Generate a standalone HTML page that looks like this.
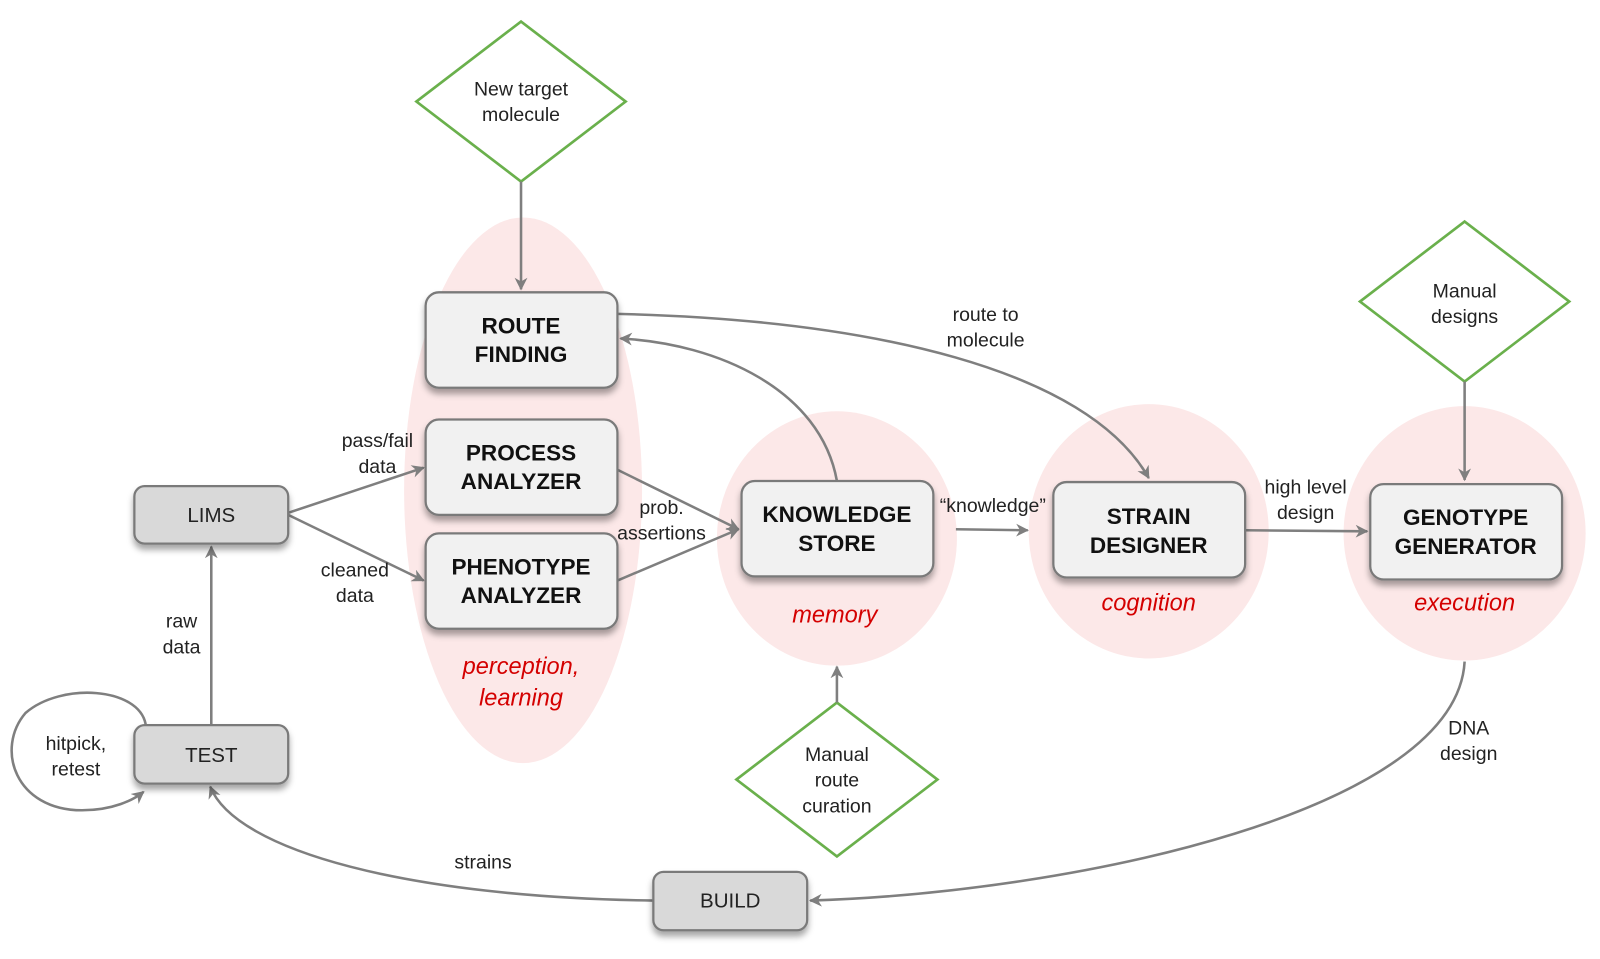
<!DOCTYPE html>
<html><head><meta charset="utf-8"><style>
html,body{margin:0;padding:0;background:#fff;}
svg{display:block;}
text{font-family:"Liberation Sans",Arial,sans-serif;}
.lbl{font-size:19px;fill:#222;text-anchor:middle;}
.bold{font-size:22px;font-weight:bold;fill:#111;text-anchor:middle;}
.red{font-size:23px;font-style:italic;fill:#d40000;text-anchor:middle;}
.c{stroke:#7f7f7f;stroke-width:2.5;fill:none;}
.dia{fill:#fff;stroke:#6ab04c;stroke-width:2.6;}
.box{fill:#f1f1f1;stroke:#7a7a7a;stroke-width:2.2;}
.gbox{fill:#d9d9d9;stroke:#7a7a7a;stroke-width:2.2;}
</style></head><body>
<svg width="1600" height="959" viewBox="0 0 1560 935" preserveAspectRatio="none">
<defs>
<marker id="a" viewBox="0 0 10 10" refX="9" refY="5" markerWidth="5" markerHeight="5" orient="auto-start-reverse"><path d="M0,0 L10,5 L0,10 L3,5 z" fill="#7f7f7f"/></marker>
<filter id="sh" x="-10%" y="-10%" width="125%" height="140%"><feDropShadow dx="0" dy="5" stdDeviation="3" flood-color="#000" flood-opacity="0.35"/></filter>
</defs>
<!-- pink regions -->
<ellipse cx="510" cy="478" rx="116" ry="266" fill="#fce8e8"/>
<ellipse cx="816" cy="525" rx="117" ry="124" fill="#fce8e8"/>
<ellipse cx="1120" cy="518" rx="117" ry="124" fill="#fce8e8"/>
<ellipse cx="1428" cy="520" rx="118" ry="124" fill="#fce8e8"/>

<!-- diamonds -->
<polygon class="dia" points="508,21 610,99 508,177 406,99"/>
<text class="lbl" x="508" y="93">New target</text><text class="lbl" x="508" y="118">molecule</text>
<polygon class="dia" points="1428,216 1530,294 1428,372 1326,294"/>
<text class="lbl" x="1428" y="290">Manual</text><text class="lbl" x="1428" y="315">designs</text>
<polygon class="dia" points="816,685 914,760 816,835 718,760"/>
<text class="lbl" x="816" y="742">Manual</text><text class="lbl" x="816" y="767">route</text><text class="lbl" x="816" y="792">curation</text>

<!-- connectors -->
<path class="c" d="M508,177 L508,282" marker-end="url(#a)"/>
<path class="c" d="M1428,372 L1428,468" marker-end="url(#a)"/>
<path class="c" d="M816,685 L816,650" marker-end="url(#a)"/>
<path class="c" d="M602,306 C850,312 1060,360 1120,466" marker-end="url(#a)"/>
<path class="c" d="M816,469 C800,380 700,335 605,330" marker-end="url(#a)"/>
<path class="c" d="M281,500 L413,456" marker-end="url(#a)"/>
<path class="c" d="M281,502 L413,566" marker-end="url(#a)"/>
<path class="c" d="M602,458 L720,516" marker-end="url(#a)"/>
<path class="c" d="M602,566 L720,516" marker-end="url(#a)"/>
<path class="c" d="M932,516 L1002,517" marker-end="url(#a)"/>
<path class="c" d="M1214,517 L1333,518" marker-end="url(#a)"/>
<path class="c" d="M206,707 L206,533" marker-end="url(#a)"/>
<path class="c" d="M1428,645 C1420,790 1050,870 790,878" marker-end="url(#a)"/>
<path class="c" d="M637,878 C400,875 230,830 205,767" marker-end="url(#a)"/>
<path class="c" d="M142,706 C135,670 60,665 25,695 C-5,730 15,790 80,790 C110,790 130,780 140,772" marker-end="url(#a)"/>

<!-- boxes -->
<g filter="url(#sh)">
<rect class="box" x="415" y="285" width="187" height="93" rx="13"/>
<rect class="box" x="415" y="409" width="187" height="93" rx="13"/>
<rect class="box" x="415" y="520" width="187" height="93" rx="13"/>
<rect class="box" x="723" y="469" width="187" height="93" rx="13"/>
<rect class="box" x="1027" y="470" width="187" height="93" rx="13"/>
<rect class="box" x="1336" y="472" width="187" height="93" rx="13"/>
<rect class="gbox" x="131" y="474" width="150" height="56" rx="10"/>
<rect class="gbox" x="131" y="707" width="150" height="57" rx="10"/>
<rect class="gbox" x="637" y="850" width="150" height="57" rx="10"/>
</g>
<text class="bold" x="508" y="325">ROUTE</text><text class="bold" x="508" y="353">FINDING</text>
<text class="bold" x="508" y="449">PROCESS</text><text class="bold" x="508" y="477">ANALYZER</text>
<text class="bold" x="508" y="560">PHENOTYPE</text><text class="bold" x="508" y="588">ANALYZER</text>
<text class="bold" x="816" y="509">KNOWLEDGE</text><text class="bold" x="816" y="537">STORE</text>
<text class="bold" x="1120" y="511">STRAIN</text><text class="bold" x="1120" y="539">DESIGNER</text>
<text class="bold" x="1429" y="512">GENOTYPE</text><text class="bold" x="1429" y="540">GENERATOR</text>
<text class="lbl" x="206" y="509" style="font-size:20px">LIMS</text>
<text class="lbl" x="206" y="743" style="font-size:20px">TEST</text>
<text class="lbl" x="712" y="885" style="font-size:20px">BUILD</text>

<!-- red labels -->
<text class="red" x="508" y="657">perception,</text><text class="red" x="508" y="688">learning</text>
<text class="red" x="814" y="607">memory</text>
<text class="red" x="1120" y="595">cognition</text>
<text class="red" x="1428" y="595">execution</text>

<!-- edge labels -->
<text class="lbl" x="961" y="313">route to</text><text class="lbl" x="961" y="338">molecule</text>
<text class="lbl" x="368" y="436">pass/fail</text><text class="lbl" x="368" y="461">data</text>
<text class="lbl" x="346" y="562">cleaned</text><text class="lbl" x="346" y="587">data</text>
<text class="lbl" x="645" y="501">prob.</text><text class="lbl" x="645" y="526">assertions</text>
<text class="lbl" x="968" y="499">“knowledge”</text>
<text class="lbl" x="1273" y="481">high level</text><text class="lbl" x="1273" y="506">design</text>
<text class="lbl" x="177" y="612">raw</text><text class="lbl" x="177" y="637">data</text>
<text class="lbl" x="74" y="731">hitpick,</text><text class="lbl" x="74" y="756">retest</text>
<text class="lbl" x="471" y="847">strains</text>
<text class="lbl" x="1432" y="716">DNA</text><text class="lbl" x="1432" y="741">design</text>
</svg>
</body></html>
